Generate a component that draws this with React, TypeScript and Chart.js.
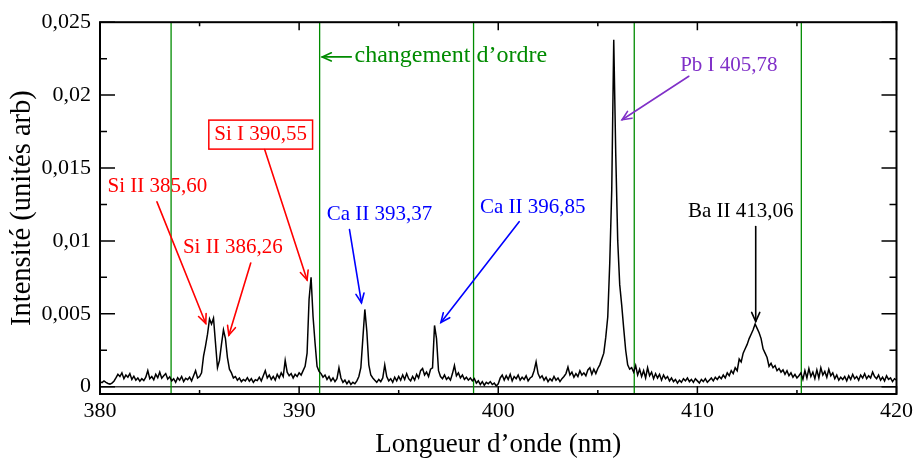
import React, { useEffect, useRef } from "react";
import { Chart, registerables } from "chart.js";

Chart.register(...registerables);

// Spectrum sampled every 0.1 nm from 380 nm; intensity values × 10^5 (arb. units)
const WL_START = 380;
const WL_STEP = 0.1;
const INTENSITY_E5 = [
  // 380.0 - 384.9
  35, 28, 40, 30, 22, 18, 25, 38,
  60, 85, 70, 95, 55, 80, 65, 90, 50, 72,
  45, 60, 38, 55, 42, 65, 110,
  55, 70, 48, 85, 62, 100, 58, 75, 90, 52, 68,
  40, 55, 30, 62, 45, 70, 35, 58, 48, 66, 40, 75, 110, 60,
  // 385.0 - 386.7 (Si II doublet)
  70, 95, 210, 280, 360, 465, 430, 470, 300, 130, 180, 290, 390, 330, 200, 120, 95, 60,
  // 386.8 - 390.2
  70, 45, 60, 35, 50, 40, 62, 38, 55, 30, 48, 42, 65, 40, 75, 110, 60, 80, 50, 70,
  45, 85, 60, 95, 70, 180, 100, 75, 90, 60, 85, 70, 95, 80, 110,
  // 390.3 - 391.0 (Si I)
  140, 230, 600, 750, 480, 300, 140, 105,
  // 391.1 - 393.0
  90, 65, 80, 50, 70, 40, 60, 35, 55, 130, 60, 30, 45, 20, 40, 15, 30, 20, 40, 70,
  // 393.1 - 393.7 (Ca II)
  130, 330, 530, 380, 150, 80, 60,
  // 393.8 - 396.6
  45, 30, 50, 35, 60, 150, 70, 40, 55, 30, 65, 40, 70, 45, 80, 50, 90, 55, 40, 70,
  45, 85, 60, 110, 125, 80, 100, 70, 120,
  // 396.7 - 397.1 (Ca II)
  130, 420, 330, 110, 70,
  // 397.2 - 405.1
  55, 80, 50, 65, 45, 90, 145, 75, 95, 60,
  80, 50, 65, 45, 60, 40, 55, 25, 40, 15,
  35, 10, 30, 20, 35, 15, 25, 5, 20, 60,
  80, 45, 75, 50, 85, 40, 70, 55, 80, 45,
  65, 50, 75, 40, 60, 70, 110, 170, 90, 60,
  75, 45, 65, 35, 55, 40, 70, 45, 60, 35,
  55, 70, 90, 135, 80, 100, 65, 90, 70, 110,
  80, 95, 75, 115, 130, 85, 120, 90, 125, 150,
  // 405.2 - 406.6 (Pb I)
  190, 230, 340, 480, 850, 1350, 2380, 1600, 1000, 700, 560, 400, 250, 150, 120,
  // 406.7 - 415.1 (incl. Ba II)
  130, 100, 145, 80, 120, 70, 110, 60, 130, 75,
  100, 55, 90, 60, 85, 45, 80, 55, 70, 40,
  60, 35, 50, 25, 45, 30, 55, 40, 60, 35,
  50, 30, 55, 40, 25, 50, 35, 55, 30, 45,
  60, 40, 65, 50, 70, 55, 80, 60, 95, 75,
  110, 90, 130, 110, 190, 170, 230, 260, 290, 330,
  360, 390, 430, 400, 370, 330, 260, 230, 200, 140,
  160, 130, 145, 110, 125, 100, 115, 85, 110, 75,
  95, 65, 85, 60, 75,
  // 415.2 - 420.0
  95, 50, 110, 60, 125, 70, 100, 55, 115, 60,
  130, 80, 105, 65, 120, 75, 95, 55, 80, 45,
  65, 50, 70, 40, 75, 50, 85, 55, 70, 45,
  80, 60, 90, 55, 75, 60, 100, 70, 55, 80,
  45, 65, 40, 75, 50, 60, 35, 55, 45,
];

const X_TICKS = [380, 390, 400, 410, 420];
const X_MINOR = [385, 395, 405, 415];
const Y_TICKS = [0, 0.005, 0.01, 0.015, 0.02, 0.025];
const Y_MINOR = [0.0025, 0.0075, 0.0125, 0.0175, 0.0225];

// Wavelengths where the diffraction order changes (green vertical lines)
const ORDER_CHANGES = [383.57, 391.03, 398.76, 406.83, 415.22];

const RED = "#ff0000";
const BLUE = "#0000ff";
const PURPLE = "#8030c8";
const GREEN = "#008b00";
const BLACK = "#000000";

// Line identifications: label position and arrow (tail -> head) in data coordinates
const LINE_LABELS = [
  { text: "Si II 385,60", color: RED, tx: 382.88, ty: 0.0137, x0: 382.86, y0: 0.01268, x1: 385.31, y1: 0.00434, boxed: false },
  { text: "Si II 386,26", color: RED, tx: 386.67, ty: 0.00956, x0: 387.57, y0: 0.00848, x1: 386.47, y1: 0.00353, boxed: false },
  { text: "Si I 390,55", color: RED, tx: 388.07, ty: 0.01729, x0: 388.27, y0: 0.01627, x1: 390.4, y1: 0.00732, boxed: true },
  { text: "Ca II 393,37", color: BLUE, tx: 394.04, ty: 0.01183, x0: 392.53, y0: 0.01078, x1: 393.13, y1: 0.00576, boxed: false },
  { text: "Ca II 396,85", color: BLUE, tx: 401.73, ty: 0.01227, x0: 401.05, y0: 0.01132, x1: 397.12, y1: 0.00441, boxed: false },
  { text: "Pb I 405,78", color: PURPLE, tx: 411.58, ty: 0.02204, x0: 409.57, y0: 0.02129, x1: 406.22, y1: 0.01831, boxed: false },
  { text: "Ba II 413,06", color: BLACK, tx: 412.18, ty: 0.012, x0: 412.93, y0: 0.01098, x1: 412.93, y1: 0.00447, boxed: false },
];
const ORDER_NOTE = { text: "changement d\u2019ordre", tx: 392.78, ty: 0.02271, x0: 392.62, y0: 0.02262, x1: 391.16, y1: 0.02262 };

const FONT = "'Liberation Serif', 'Times New Roman', Times, serif";

function fmtY(v: number): string {
  if (v === 0) return "0";
  return String(+v.toFixed(4)).replace(".", ",");
}

function arrow(ctx: CanvasRenderingContext2D, ax: number, ay: number, bx: number, by: number, color: string) {
  ctx.strokeStyle = color;
  ctx.lineWidth = 1.6;
  ctx.lineCap = "round";
  ctx.beginPath();
  ctx.moveTo(ax, ay);
  ctx.lineTo(bx, by);
  ctx.stroke();
  const ang = Math.atan2(by - ay, bx - ax);
  const len = 10;
  const spread = 0.42;
  ctx.beginPath();
  ctx.moveTo(bx - len * Math.cos(ang - spread), by - len * Math.sin(ang - spread));
  ctx.lineTo(bx, by);
  ctx.lineTo(bx - len * Math.cos(ang + spread), by - len * Math.sin(ang + spread));
  ctx.stroke();
}

const overlay = {
  id: "overlay",
  beforeDatasetsDraw(chart: any) {
    const { ctx, chartArea: a, scales } = chart;
    const x = scales.x;
    const y = scales.y;
    ctx.save();
    // zero line
    const y0 = y.getPixelForValue(0);
    ctx.strokeStyle = "#3a3a3a";
    ctx.lineWidth = 1.5;
    ctx.beginPath();
    ctx.moveTo(a.left, y0);
    ctx.lineTo(a.right, y0);
    ctx.stroke();
    // order change lines
    ctx.strokeStyle = GREEN;
    ctx.lineWidth = 1.3;
    for (const w of ORDER_CHANGES) {
      const px = x.getPixelForValue(w);
      ctx.beginPath();
      ctx.moveTo(px, a.top);
      ctx.lineTo(px, a.bottom);
      ctx.stroke();
    }
    ctx.restore();
  },
  afterDatasetsDraw(chart: any) {
    const { ctx, chartArea: a, scales } = chart;
    const x = scales.x;
    const y = scales.y;
    ctx.save();
    // frame
    ctx.strokeStyle = "#000";
    ctx.lineWidth = 2;
    ctx.strokeRect(a.left, a.top, a.right - a.left, a.bottom - a.top);
    // inward ticks on all four sides
    ctx.lineWidth = 1.5;
    const xt = (vals: number[], len: number) => {
      for (const v of vals) {
        const px = x.getPixelForValue(v);
        ctx.beginPath();
        ctx.moveTo(px, a.bottom);
        ctx.lineTo(px, a.bottom - len);
        ctx.moveTo(px, a.top);
        ctx.lineTo(px, a.top + len);
        ctx.stroke();
      }
    };
    const yt = (vals: number[], len: number) => {
      for (const v of vals) {
        const py = y.getPixelForValue(v);
        ctx.beginPath();
        ctx.moveTo(a.left, py);
        ctx.lineTo(a.left + len, py);
        ctx.moveTo(a.right, py);
        ctx.lineTo(a.right - len, py);
        ctx.stroke();
      }
    };
    xt(X_TICKS, 8);
    xt(X_MINOR, 4);
    yt(Y_TICKS, 15);
    yt(Y_MINOR, 7);

    // annotations
    ctx.font = `21px ${FONT}`;
    ctx.textBaseline = "middle";
    for (const l of LINE_LABELS) {
      const tx = x.getPixelForValue(l.tx);
      const ty = y.getPixelForValue(l.ty);
      ctx.fillStyle = l.color;
      ctx.textAlign = "center";
      ctx.fillText(l.text, tx, ty);
      if (l.boxed) {
        const w = ctx.measureText(l.text).width;
        ctx.strokeStyle = l.color;
        ctx.lineWidth = 1.5;
        ctx.strokeRect(tx - w / 2 - 5.5, ty - 14.5, w + 11, 29);
      }
      arrow(ctx, x.getPixelForValue(l.x0), y.getPixelForValue(l.y0), x.getPixelForValue(l.x1), y.getPixelForValue(l.y1), l.color);
    }
    ctx.font = `24px ${FONT}`;
    ctx.fillStyle = GREEN;
    ctx.textAlign = "left";
    ctx.fillText(ORDER_NOTE.text, x.getPixelForValue(ORDER_NOTE.tx), y.getPixelForValue(ORDER_NOTE.ty));
    arrow(ctx, x.getPixelForValue(ORDER_NOTE.x0), y.getPixelForValue(ORDER_NOTE.y0), x.getPixelForValue(ORDER_NOTE.x1), y.getPixelForValue(ORDER_NOTE.y1), GREEN);
    ctx.restore();
  },
};

export default function App() {
  const ref = useRef<HTMLCanvasElement>(null);
  useEffect(() => {
    document.body.style.margin = "0";
    const canvas = ref.current;
    if (!canvas) return;
    const points = INTENSITY_E5.map((v, i) => ({ x: +(WL_START + i * WL_STEP).toFixed(2), y: v / 1e5 }));
    const chart = new Chart(canvas, {
      type: "line",
      data: {
        datasets: [
          {
            data: points,
            borderColor: "#000",
            borderWidth: 1.5,
            pointRadius: 0,
            tension: 0,
            fill: false,
          },
        ],
      },
      options: {
        animation: false,
        responsive: false,
        maintainAspectRatio: false,
        layout: { padding: { top: 18.5, right: 19, left: 0, bottom: 0 } },
        plugins: { legend: { display: false }, tooltip: { enabled: false } },
        scales: {
          x: {
            type: "linear",
            min: 380,
            max: 420,
            grid: { display: false, drawTicks: false },
            border: { display: false },
            afterBuildTicks: (s: any) => {
              s.ticks = X_TICKS.map((v) => ({ value: v }));
            },
            afterFit: (s: any) => {
              s.height = 68;
            },
            ticks: {
              color: "#000",
              font: { family: FONT, size: 22 },
              padding: 4,
              maxRotation: 0,
              autoSkip: false,
              callback: (v: any) => String(v),
            },
            title: {
              display: true,
              text: "Longueur d\u2019onde (nm)",
              color: "#000",
              font: { family: FONT, size: 27 },
              padding: { top: 0, bottom: 1 },
            },
          },
          y: {
            type: "linear",
            min: -0.0005,
            max: 0.025,
            grid: { display: false, drawTicks: false },
            border: { display: false },
            afterBuildTicks: (s: any) => {
              s.ticks = Y_TICKS.map((v) => ({ value: v }));
            },
            afterFit: (s: any) => {
              s.width = 100;
            },
            ticks: {
              color: "#000",
              font: { family: FONT, size: 22 },
              padding: 9,
              autoSkip: false,
              callback: (v: any) => fmtY(Number(v)),
            },
            title: {
              display: true,
              text: "Intensit\u00e9 (unit\u00e9s arb)",
              color: "#000",
              font: { family: FONT, size: 28.5 },
              padding: { top: 5, bottom: 0 },
            },
          },
        },
      },
      plugins: [overlay],
    });
    return () => chart.destroy();
  }, []);
  return (
    <div style={{ width: 917, height: 462 }}>
      <canvas ref={ref} width={917} height={462} style={{ display: "block" }} />
    </div>
  );
}
